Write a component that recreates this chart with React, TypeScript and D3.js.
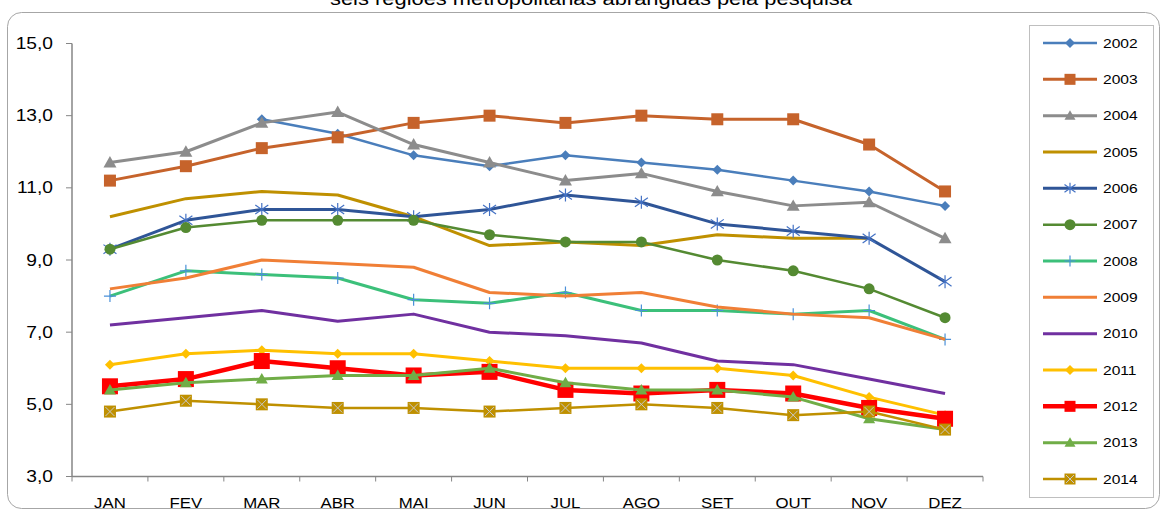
import React from "react";
import * as d3 from "d3";

const months = ["JAN", "FEV", "MAR", "ABR", "MAI", "JUN", "JUL", "AGO", "SET", "OUT", "NOV", "DEZ"];
const yTicks = [3, 5, 7, 9, 11, 13, 15];
const years = ["2002", "2003", "2004", "2005", "2006", "2007", "2008", "2009", "2010", "2011", "2012", "2013", "2014"];
const title = "seis regiões metropolitanas abrangidas pela pesquisa";

const s2002 = [null, null, 12.9, 12.5, 11.9, 11.6, 11.9, 11.7, 11.5, 11.2, 10.9, 10.5];
const s2003 = [11.2, 11.6, 12.1, 12.4, 12.8, 13.0, 12.8, 13.0, 12.9, 12.9, 12.2, 10.9];
const s2004 = [11.7, 12.0, 12.8, 13.1, 12.2, 11.7, 11.2, 11.4, 10.9, 10.5, 10.6, 9.6];
const s2005 = [10.2, 10.7, 10.9, 10.8, 10.2, 9.4, 9.5, 9.4, 9.7, 9.6, 9.6, null];
const s2006 = [9.3, 10.1, 10.4, 10.4, 10.2, 10.4, 10.8, 10.6, 10.0, 9.8, 9.6, 8.4];
const s2007 = [9.3, 9.9, 10.1, 10.1, 10.1, 9.7, 9.5, 9.5, 9.0, 8.7, 8.2, 7.4];
const s2008 = [8.0, 8.7, 8.6, 8.5, 7.9, 7.8, 8.1, 7.6, 7.6, 7.5, 7.6, 6.8];
const s2009 = [8.2, 8.5, 9.0, 8.9, 8.8, 8.1, 8.0, 8.1, 7.7, 7.5, 7.4, 6.8];
const s2010 = [7.2, 7.4, 7.6, 7.3, 7.5, 7.0, 6.9, 6.7, 6.2, 6.1, 5.7, 5.3];
const s2011 = [6.1, 6.4, 6.5, 6.4, 6.4, 6.2, 6.0, 6.0, 6.0, 5.8, 5.2, 4.7];
const s2012 = [5.5, 5.7, 6.2, 6.0, 5.8, 5.9, 5.4, 5.3, 5.4, 5.3, 4.9, 4.6];
const s2013 = [5.4, 5.6, 5.7, 5.8, 5.8, 6.0, 5.6, 5.4, 5.4, 5.2, 4.6, 4.3];
const s2014 = [4.8, 5.1, 5.0, 4.9, 4.9, 4.8, 4.9, 5.0, 4.9, 4.7, 4.8, 4.3];

const seriesValues = [s2002, s2003, s2004, s2005, s2006, s2007, s2008, s2009, s2010, s2011, s2012, s2013, s2014];

type Style = { color: string; width: number; marker: string; mcolor: string; msize: number };
const styles: Style[] = [
  { color: "#4A7EBB", width: 2.5, marker: "diamond", mcolor: "#4A7EBB", msize: 10 },
  { color: "#C6632B", width: 3, marker: "square", mcolor: "#C6632B", msize: 12 },
  { color: "#8C8C8C", width: 3, marker: "triangle", mcolor: "#8C8C8C", msize: 13 },
  { color: "#BF9000", width: 3, marker: "none", mcolor: "#BF9000", msize: 0 },
  { color: "#2F5597", width: 3, marker: "star", mcolor: "#4472C4", msize: 13 },
  { color: "#548A32", width: 2.5, marker: "circle", mcolor: "#548A32", msize: 11 },
  { color: "#3CC07A", width: 3, marker: "plus", mcolor: "#4A90D9", msize: 12 },
  { color: "#F07F36", width: 3, marker: "none", mcolor: "#F07F36", msize: 0 },
  { color: "#7030A0", width: 3, marker: "none", mcolor: "#7030A0", msize: 0 },
  { color: "#FFC000", width: 3, marker: "diamond", mcolor: "#FFC000", msize: 10 },
  { color: "#FF0000", width: 4.5, marker: "square", mcolor: "#FF0000", msize: 16 },
  { color: "#70AD47", width: 3, marker: "triangle", mcolor: "#70AD47", msize: 12 },
  { color: "#BF9000", width: 2.5, marker: "xsquare", mcolor: "#BF9000", msize: 12 },
];

function Marker({ type, x, y, size, color }: { type: string; x: number; y: number; size: number; color: string }) {
  const h = size / 2;
  switch (type) {
    case "square":
      return <rect x={x - h} y={y - h} width={size} height={size} fill={color} />;
    case "xsquare":
      return (
        <g>
          <rect x={x - h} y={y - h} width={size} height={size} fill={color} />
          <path d={`M${x - h + 1.5},${y - h + 1.5}L${x + h - 1.5},${y + h - 1.5}M${x - h + 1.5},${y + h - 1.5}L${x + h - 1.5},${y - h + 1.5}`} stroke="#C8C8C8" strokeWidth={1} />
        </g>
      );
    case "diamond":
      return <path d={`M${x},${y - h}L${x + h},${y}L${x},${y + h}L${x - h},${y}Z`} fill={color} />;
    case "circle":
      return <circle cx={x} cy={y} r={h} fill={color} />;
    case "triangle":
      return <path d={`M${x},${y - h}L${x + h},${y + h * 0.75}L${x - h},${y + h * 0.75}Z`} fill={color} />;
    case "star":
      return (
        <path
          d={`M${x - h},${y - h * 0.7}L${x + h},${y + h * 0.7}M${x - h},${y + h * 0.7}L${x + h},${y - h * 0.7}M${x},${y - h}L${x},${y + h}`}
          stroke={color}
          strokeWidth={1.2}
          fill="none"
        />
      );
    case "plus":
      return <path d={`M${x - h},${y}L${x + h},${y}M${x},${y - h}L${x},${y + h}`} stroke={color} strokeWidth={1.2} fill="none" />;
    default:
      return null;
  }
}

function SText({ x, y, size, anchor, children }: { x: number; y: number; size: number; anchor?: string; children: React.ReactNode }) {
  return (
    <text transform={`translate(${x},${y}) scale(1.2,1)`} dy="0.35em" textAnchor={anchor || "start"} fontSize={size} fill="#000">
      {children}
    </text>
  );
}

export default function App() {
  const W = 1168;
  const H = 511;
  const x = d3.scaleBand<string>().domain(months).range([72, 983]);
  const cx = (m: string) => (x(m) as number) + x.bandwidth() / 2;
  const y = d3.scaleLinear().domain([3, 15]).range([476.5, 43.5]);
  const line = d3
    .line<number | null>()
    .defined((d) => d != null)
    .x((_, i) => cx(months[i]))
    .y((d) => y(d as number));

  const font = "'Liberation Sans', Arial, sans-serif";
  const legendY = d3.scaleLinear().domain([0, years.length - 1]).range([43, 479]);

  return (
    <svg width={W} height={H} style={{ position: "absolute", left: 0, top: 0, background: "#fff" }} fontFamily={font}>
      <rect x={0} y={0} width={W} height={H} fill="#fff" />
      <text x={591} y={5} textAnchor="middle" fontSize={18} fill="#000" textLength={522} lengthAdjust="spacingAndGlyphs">
        {title}
      </text>
      <rect x={7.5} y={12.5} width={1152} height={496} rx={14} ry={14} fill="none" stroke="#A6A6A6" strokeWidth={1} />

      {/* axes */}
      <line x1={72} x2={72} y1={y(15)} y2={y(3)} stroke="#868686" strokeWidth={1.5} />
      <line x1={72} x2={983} y1={y(3)} y2={y(3)} stroke="#868686" strokeWidth={1.5} />
      {yTicks.map((t) => (
        <g key={t}>
          <line x1={66} x2={72} y1={y(t)} y2={y(t)} stroke="#868686" strokeWidth={1} />
          <SText x={53} y={y(t)} size={16} anchor="end">
            {d3.format(".1f")(t).replace(".", ",")}
          </SText>
        </g>
      ))}
      {months.concat(["END"]).map((m, i) => {
        const xx = i < months.length ? (x(m) as number) : 983;
        return <line key={m} x1={xx} x2={xx} y1={y(3)} y2={y(3) + 5} stroke="#868686" strokeWidth={1} />;
      })}
      {months.map((m) => (
        <SText key={m} x={cx(m)} y={503} size={14} anchor="middle">
          {m}
        </SText>
      ))}

      {/* series */}
      {seriesValues.map((vals, si) => {
        const st = styles[si];
        return (
          <g key={years[si]}>
            <path d={line(vals) || ""} fill="none" stroke={st.color} strokeWidth={st.width} strokeLinejoin="round" />
            {vals.map((v, i) =>
              v == null ? null : <Marker key={i} type={st.marker} x={cx(months[i])} y={y(v)} size={st.msize} color={st.mcolor} />
            )}
          </g>
        );
      })}

      {/* legend */}
      <rect x={1029.5} y={25.5} width={124} height={472} fill="#fff" stroke="#BFBFBF" strokeWidth={1} />
      {years.map((yr, i) => {
        const st = styles[i];
        const ly = legendY(i);
        return (
          <g key={yr}>
            <line x1={1043} x2={1097} y1={ly} y2={ly} stroke={st.color} strokeWidth={st.width} />
            <Marker type={st.marker} x={1070} y={ly} size={Math.min(st.msize, 11)} color={st.mcolor} />
            <SText x={1103} y={ly} size={13}>
              {yr}
            </SText>
          </g>
        );
      })}
    </svg>
  );
}
